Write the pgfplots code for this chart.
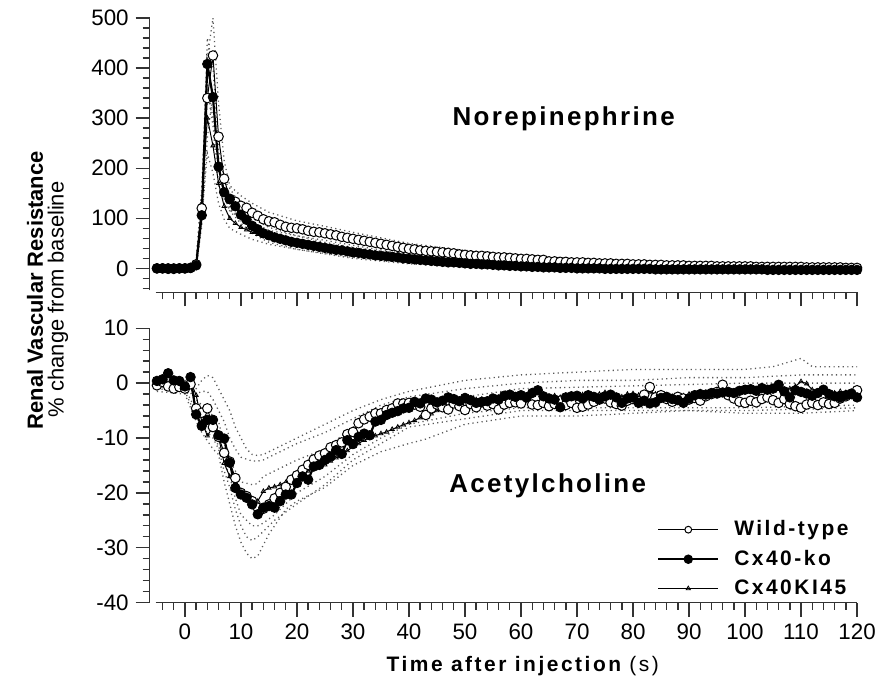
\documentclass[border=0pt]{standalone}
\usepackage{pgfplots}
\pgfplotsset{compat=1.18}
\usepackage{pgfplotstable}
\usepackage{fontspec}
\setmainfont{Liberation Sans}
\newfontfamily\legfont[LetterSpace=12]{Liberation Sans}
\newfontfamily\ttlfont[LetterSpace=9]{Liberation Sans}

\pgfplotstableread{
t wt ko ki
-5 0 0 0
-4 0 0 0
-3 0 -1 0
-2 -1 0 0
-1 0 0 0
0 0 0 1
1 1 1 2
2 8 6 10
3 120 106 130
4 340 408 300
5 425 342 245
6 263 203 170
7 179 152 124
8 139 138 100
9 133 124 90
10 125 107 82
11 121 97 77
12 111 85 72
13 105 78 68
14 98 70 64
15 94 66 60
16 92 62 57
17 87 59 55
18 83 56 53
19 81 53 50
20 80 51 48
21 78 49 46
22 75 47 45
23 73 45 43
24 72 43 41
25 70 41 40
26 68 39 38
27 66 37 36
28 63 36 34
29 61 34 32
30 59 32 30
31 57 31 29
32 55 29 27
33 53 28 26
34 51 26 25
35 49 25 23
36 47 24 22
37 45 23 21
38 43 22 20
39 41 20 19
40 39 19 18
41 38 18 17
42 36 17 16
43 35 16 15
44 34 15 14
45 33 14 13
46 32 13 12
47 31 12 11
48 30 12 10
49 28 11 9
50 27 10 9
51 26 9 8
52 25 9 7
53 25 8 7
54 24 8 6
55 23 7 5
56 22 6 5
57 22 6 4
58 21 5 4
59 20 5 3
60 19 4 3
61 19 4 2
62 18 3 2
63 17 3 2
64 17 2 1
65 14 2 1
66 14 2 1
67 13 1 0
68 13 1 0
69 12 1 0
70 12 0 0
71 12 0 -1
72 11 0 -1
73 11 0 -1
74 10 0 -1
75 10 -1 -1
76 10 -1 -1
77 9 -1 -2
78 9 -1 -2
79 9 -1 -2
80 8 -1 -2
81 8 -1 -2
82 8 -1 -2
83 7 -1 -2
84 7 -2 -2
85 7 -2 -2
86 6 -2 -2
87 6 -2 -2
88 6 -2 -2
89 6 -2 -2
90 5 -2 -2
91 5 -2 -2
92 5 -2 -2
93 5 -2 -2
94 5 -2 -2
95 4 -2 -3
96 4 -2 -3
97 4 -2 -3
98 4 -2 -3
99 4 -2 -3
100 4 -2 -3
101 4 -2 -3
102 3 -2 -3
103 3 -2 -3
104 3 -3 -3
105 3 -3 -3
106 3 -3 -3
107 3 -3 -3
108 3 -3 -3
109 3 -3 -3
110 3 -3 -3
111 2 -3 -3
112 2 -3 -3
113 2 -3 -3
114 2 -3 -3
115 2 -3 -3
116 2 -3 -3
117 2 -3 -3
118 1 -3 -3
119 1 -3 -3
120 1 -3 -3
}\nedata

\pgfplotstableread{
t wt ko ki
-5 -0.4 0.4 -0.3
-4 0.2 0.7 -0.5
-3 -0.6 1.8 -0.2
-2 -1.0 0.5 -0.8
-1 -0.7 0.4 -0.9
0 -1.0 -0.6 -0.5
1 -0.2 1.1 0.3
2 -4.6 -5.7 -2.2
3 -5.4 -7.8 -7.0
4 -4.6 -6.7 -9.6
5 -8.0 -6.7 -8.0
6 -9.8 -9.5 -9.8
7 -12.7 -10.1 -14.6
8 -14.3 -14.5 -17.0
9 -17.3 -19.1 -18.2
10 -20.0 -20.3 -20.0
11 -20.6 -20.9 -21.0
12 -21.5 -22.1 -21.5
13 -22.7 -23.9 -21.5
14 -22.9 -22.7 -19.7
15 -22.1 -22.4 -19.1
16 -21.0 -22.7 -18.9
17 -20.0 -21.5 -18.5
18 -18.9 -20.3 -18.1
19 -17.6 -20.3 -17.3
20 -16.8 -18.2 -16.9
21 -15.8 -17.0 -16.4
22 -14.9 -17.6 -16.0
23 -13.9 -15.2 -15.5
24 -13.2 -14.9 -15.2
25 -12.8 -14.0 -14.9
26 -11.7 -13.4 -14.2
27 -11.3 -12.2 -13.6
28 -10.8 -12.9 -13.0
29 -9.3 -10.4 -12.3
30 -8.9 -11.1 -11.6
31 -7.3 -9.8 -11.0
32 -6.6 -9.2 -10.4
33 -6.1 -9.5 -10.0
34 -5.5 -7.0 -9.6
35 -5.5 -6.7 -9.2
36 -4.9 -5.8 -8.9
37 -4.6 -5.4 -8.4
38 -3.7 -5.1 -8.0
39 -3.7 -4.6 -7.6
40 -3.6 -4.5 -7.2
41 -3.9 -3.4 -6.8
42 -4.3 -3.7 -6.3
43 -5.8 -2.8 -6.1
44 -4.6 -3.0 -5.6
45 -3.9 -3.5 -5.0
46 -4.4 -3.2 -4.7
47 -4.8 -2.6 -4.3
48 -3.7 -2.9 -4.0
49 -4.2 -3.3 -3.6
50 -4.9 -2.7 -3.4
51 -3.8 -3.1 -3.2
52 -4.4 -3.6 -3.0
53 -3.5 -3.4 -2.9
54 -4.1 -3.3 -3.1
55 -3.8 -2.8 -2.7
56 -4.8 -3.0 -2.6
57 -3.9 -2.3 -2.4
58 -3.6 -2.1 -2.6
59 -3.5 -2.5 -2.3
60 -3.7 -2.2 -2.2
61 -2.6 -2.6 -2.5
62 -3.9 -1.8 -2.1
63 -4.0 -1.3 -1.8
64 -3.6 -2.4 -2.2
65 -4.2 -2.8 -2.4
66 -3.8 -3.0 -2.3
67 -3.2 -4.4 -2.6
68 -4.0 -2.6 -2.2
69 -3.6 -2.4 -2.0
70 -4.5 -2.3 -2.3
71 -4.3 -2.8 -2.1
72 -3.9 -2.2 -1.9
73 -3.4 -2.5 -2.2
74 -3.0 -2.9 -2.0
75 -2.8 -2.4 -1.7
76 -3.5 -2.1 -2.1
77 -3.8 -2.6 -2.3
78 -4.1 -3.6 -2.5
79 -3.2 -2.8 -2.0
80 -2.9 -2.6 -1.9
81 -3.3 -3.6 -2.2
82 -2.1 -3.2 -1.8
83 -0.7 -3.7 -1.6
84 -2.6 -3.5 -2.0
85 -2.2 -2.7 -1.9
86 -2.9 -2.5 -2.2
87 -3.4 -2.9 -2.4
88 -2.5 -3.1 -2.1
89 -2.8 -3.6 -2.3
90 -3.0 -2.8 -2.0
91 -2.7 -2.2 -1.8
92 -3.2 -2.0 -1.6
93 -2.4 -2.1 -1.7
94 -2.0 -1.8 -1.5
95 -1.6 -1.9 -1.4
96 -0.3 -1.7 -1.6
97 -2.2 -1.6 -1.3
98 -2.8 -1.8 -1.5
99 -3.4 -1.4 -1.2
100 -3.6 -1.2 -1.4
101 -3.2 -1.1 -1.1
102 -3.5 -1.4 -1.3
103 -2.9 -0.9 -1.0
104 -2.6 -1.2 -1.2
105 -3.1 -1.0 -0.9
106 -3.6 -0.3 -1.1
107 -2.9 -1.5 -1.4
108 -3.8 -2.6 -1.0
109 -4.2 -1.3 -0.6
110 -4.5 -1.6 0.3
111 -3.9 -1.9 -0.1
112 -3.6 -2.3 -1.2
113 -4.0 -1.8 -1.5
114 -3.5 -1.2 -1.3
115 -3.8 -2.0 -1.6
116 -3.6 -2.4 -1.8
117 -2.8 -2.6 -1.5
118 -2.4 -2.2 -1.7
119 -2.0 -1.9 -1.9
120 -1.3 -2.6 -2.0
}\achdata

\pgfplotsset{
  every axis/.append style={
    scale only axis, width=354.5pt, height=137.5pt,
    xmin=-6.3, xmax=120,
    axis x line*=bottom, axis y line*=left,
    axis line style={line width=0.7pt, black!80},
    every tick/.style={line width=0.7pt, black!80},
    tick align=outside,
    major tick length=7pt, minor tick length=3.5pt,
    x axis line style={shorten <=3pt},
    xtick={0,10,...,120},
    minor xtick={-4,-2,...,120},
    tick label style={font=\fontsize{11.2}{13}\selectfont},
    /pgf/number format/assume math mode=true,
    clip=false,
  },
  band/.style={gray!70!black, line width=0.65pt, dash pattern=on 0.6pt off 1.7pt, no marks},
  wtst/.style={black, line width=0.5pt, mark=*, mark size=2.4pt, mark options={fill=white, line width=0.5pt}},
  kost/.style={black, line width=1.1pt, mark=*, mark size=2.4pt, mark options={fill=black, line width=0.4pt}},
  kist/.style={black, line width=0.5pt, mark=triangle, mark size=1.2pt, mark options={line width=0.4pt}},
  legend image code/.code={\draw[mark repeat=2,mark phase=2] plot coordinates {(0pt,0pt)(15pt,0pt)(30pt,0pt)}; \path (35.5pt,0pt);},
}

\begin{document}
\begin{tikzpicture}
\useasboundingbox (0,0) rectangle (438.5pt,-344.3pt);

% ---------- top panel: Norepinephrine ----------
\begin{axis}[at={(75pt,-146.5pt)}, anchor=south west,
  ymin=-47.8, ymax=500,
  ytick={0,100,...,500}, minor ytick={-40,-20,...,480},
  xticklabels={},
  y axis line style={shorten <=1pt}]
\addplot[band] coordinates {(-5,3)(0,3)(2,15)(3,150)(4,420)(5,500)(6,330)(7,215)(8,165)(10,145)(12,130)(15,112)(20,95)(25,84)(30,72)(40,50)(50,36)(60,27)(70,19)(80,14)(90,11)(100,9)(110,7)(120,5)};
\addplot[band] coordinates {(-5,-3)(0,-3)(2,2)(3,90)(4,260)(5,350)(6,200)(7,145)(8,115)(10,105)(12,92)(15,76)(20,65)(25,56)(30,46)(40,28)(50,18)(60,11)(70,6)(80,3)(90,1)(100,0)(110,-1)(120,-2)};
\addplot[band] coordinates {(-5,2)(0,2)(2,12)(3,130)(4,460)(5,400)(6,240)(7,175)(8,160)(10,125)(12,100)(15,82)(20,65)(25,52)(30,42)(40,27)(50,16)(60,10)(70,5)(80,3)(90,2)(100,1)(110,0)(120,-1)};
\addplot[band] coordinates {(-5,-2)(0,-2)(2,2)(3,85)(4,355)(5,285)(6,165)(7,130)(8,115)(10,90)(12,70)(15,52)(20,38)(25,30)(30,22)(40,11)(50,4)(60,-1)(70,-4)(80,-5)(90,-5)(100,-5)(110,-5)(120,-5)};
\addplot[band] coordinates {(0,2)(2,15)(3,160)(4,370)(5,300)(6,210)(7,150)(8,120)(10,95)(12,85)(15,72)(20,58)(30,38)(40,24)(50,14)(60,8)(80,2)(100,0)(120,-1)};
\addplot[band] coordinates {(0,-2)(2,5)(3,100)(4,230)(5,190)(6,130)(7,98)(8,80)(10,68)(12,58)(15,48)(20,38)(30,20)(40,9)(50,3)(60,-2)(80,-5)(100,-6)(120,-6)};
\addplot[kist] table[x=t,y=ki] {\nedata};
\addplot[wtst] table[x=t,y=wt] {\nedata};
\addplot[kost] table[x=t,y=ko] {\nedata};
\end{axis}

% ---------- bottom panel: Acetylcholine ----------
\begin{axis}[at={(75pt,-302pt)}, anchor=south west,
  ymin=-40, ymax=10,
  ytick={-40,-30,...,10}, minor ytick={-38,-36,...,8},
  legend style={draw=none, fill=none, at={(0.717,0.315)}, anchor=north west,
    font=\legfont\bfseries\fontsize{10.5}{12}\selectfont,
    row sep=1.7pt, inner sep=0pt},
  legend cell align=left]
\addplot[band, forget plot] coordinates {(-5,0.5)(0,0.5)(2,-1)(3,0.5)(4,1.4)(5,1.0)(6,-1)(7,-3)(8,-5)(9,-8)(10,-10)(11,-12)(12,-13)(13,-13.2)(14,-13)(15,-12.5)(17,-11.5)(20,-10)(25,-7.5)(30,-5)(35,-3)(40,-1.5)(45,-0.5)(50,0.5)(60,1.5)(70,2)(80,2.5)(90,2.5)(100,2.5)(105,3)(110,4.5)(112,3)(120,3)};
\addplot[band, forget plot] coordinates {(-5,-0.2)(0,-0.3)(2,-2)(3,-1.5)(4,-1.5)(5,-3)(6,-5)(7,-7)(8,-10)(9,-12)(10,-13.5)(12,-14.2)(13,-14.2)(14,-14)(16,-13)(20,-11)(25,-9)(30,-6.5)(35,-4)(40,-2.5)(50,-1)(60,0)(70,0.5)(80,0.5)(90,1)(100,1)(110,1.5)(120,1.5)};
\addplot[band, forget plot] coordinates {(0,-0.5)(2,-3)(3,-4)(4,-6.5)(5,-5.5)(6,-7)(7,-11)(8,-14)(9,-16)(10,-18)(12,-18.5)(13,-18.3)(14,-17)(16,-16)(20,-14)(25,-12)(30,-8)(35,-6.5)(40,-5)(50,-2.5)(60,-1)(80,-0.5)(100,0)(120,0)};
\addplot[band, forget plot] coordinates {(-5,-1.5)(0,-2)(2,-7)(3,-9)(4,-10.5)(5,-12)(6,-13)(7,-18)(8,-22)(9,-26)(10,-29)(11,-31)(12,-32)(13,-31.5)(14,-29.5)(15,-27.5)(16,-26)(18,-23)(20,-21.5)(25,-19)(30,-15)(35,-12.5)(40,-11)(43,-10.2)(50,-7.5)(60,-6)(70,-6)(80,-5.5)(90,-5)(100,-5.5)(110,-5.5)(120,-5)};
\addplot[band, forget plot] coordinates {(-5,-1)(0,-1.5)(2,-6)(3,-8)(4,-9)(5,-10)(6,-12)(7,-16)(8,-19)(9,-23)(10,-26)(11,-28)(12,-28.7)(13,-28)(14,-27)(16,-25)(18,-23.5)(20,-22)(25,-18.5)(30,-14)(35,-11)(40,-8)(50,-6.5)(60,-5)(80,-5)(100,-5)(120,-4.5)};
\addplot[band, forget plot] coordinates {(0,-1)(2,-5)(3,-7)(5,-9)(7,-14)(8,-17)(9,-21)(10,-24)(11,-25)(12,-26)(13,-26)(14,-25.5)(16,-24)(18,-22)(20,-20)(25,-17)(30,-13)(35,-10)(40,-7.5)(50,-5.5)(60,-4.5)(80,-4.5)(100,-4.5)(120,-4)};
\addplot[kist, forget plot] table[x=t,y=ki] {\achdata};
\addplot[wtst, forget plot] table[x=t,y=wt] {\achdata};
\addplot[kost, forget plot] table[x=t,y=ko] {\achdata};
\addlegendimage{black, line width=0.5pt, mark=*, mark size=1.7pt, mark options={fill=white, line width=0.5pt}}
\addlegendentry{Wild-type}
\addlegendimage{black, line width=1.1pt, mark=*, mark size=1.8pt, mark options={fill=black}}
\addlegendentry{Cx40-ko}
\addlegendimage{black, line width=0.5pt, mark=triangle, mark size=1.2pt, mark options={line width=0.4pt}}
\addlegendentry{Cx40KI45}
\end{axis}

% ---------- texts ----------
\node[font=\ttlfont\bfseries\fontsize{13}{15}\selectfont, anchor=base] at (282.5pt,-63pt) {Norepinephrine};
\node[font=\ttlfont\bfseries\fontsize{13}{15}\selectfont, anchor=base] at (274.5pt,-247pt) {Acetylcholine};
\node[rotate=90, font=\bfseries\fontsize{11}{13}\selectfont] at (17.5pt,-145.5pt) {Renal Vascular Resistance};
\node[rotate=90, font=\fontsize{11}{13}\selectfont] at (29pt,-150pt) {\% change from baseline};
\node[font=\legfont\fontsize{10.5}{12}\selectfont] at (262pt,-334pt) {{\bfseries Time after injection} (s)};
\end{tikzpicture}
\end{document}
